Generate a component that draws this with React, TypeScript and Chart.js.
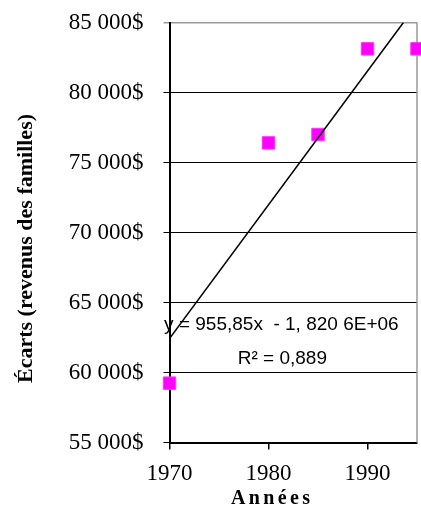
import { useEffect, useRef } from 'react';
import { Chart, registerables } from 'chart.js';

Chart.register(...registerables);

// ---- data ----
const years = [1970, 1980, 1985, 1990, 1995];
const gaps = [59240, 76400, 77000, 83120, 83120];
const trendYears = [1970, 1993.63];
const trendValues = [62425, 85000];
const yTickValues = [55000, 60000, 65000, 70000, 75000, 80000, 85000];
const xTickValues = [1970, 1980, 1990];
const equationLabel = 'y = 955,85x  - 1, 820 6E+06';
const r2Label = 'R² = 0,889';
const xTitle = 'Années';
const yTitle = 'Écarts (revenus des familles)';

const SERIF = "'Liberation Serif', 'Times New Roman', serif";
const SANS = "'Liberation Sans', Arial, sans-serif";

const fmtMoney = (v: number) => {
  const th = Math.floor(v / 1000);
  const rest = String(Math.round(v % 1000)).padStart(3, '0');
  return `${th} ${rest}$`;
};

const zeroPad = (s: any) => {
  s.paddingTop = 0;
  s.paddingBottom = 0;
  s.paddingLeft = 0;
  s.paddingRight = 0;
};

const annotPlugin = {
  id: 'annot',
  beforeDatasetsDraw(chart: any) {
    const { ctx, chartArea } = chart;
    ctx.save();
    ctx.strokeStyle = '#999999';
    ctx.lineWidth = 1.5;
    ctx.beginPath();
    ctx.moveTo(chartArea.right, chartArea.top);
    ctx.lineTo(chartArea.right, chartArea.bottom);
    ctx.stroke();
    ctx.restore();
  },
  afterDraw(chart: any) {
    const { ctx } = chart;
    const xs = chart.scales.x;
    const ys = chart.scales.y;
    ctx.save();
    ctx.fillStyle = '#000';
    ctx.textAlign = 'center';
    ctx.textBaseline = 'middle';
    ctx.font = `19px ${SANS}`;
    ctx.fillText(equationLabel, xs.getPixelForValue(1981.3), ys.getPixelForValue(63430));
    ctx.fillText(r2Label, xs.getPixelForValue(1981.4), ys.getPixelForValue(61000));

    // x title with letter spacing
    ctx.font = `bold 20px ${SERIF}`;
    ctx.textBaseline = 'alphabetic';
    const sp = 3.4;
    (ctx as any).letterSpacing = `${sp}px`;
    ctx.textAlign = 'center';
    ctx.fillText(xTitle, 270.5 + sp / 2, 504);
    (ctx as any).letterSpacing = '0px';

    // y title
    ctx.translate(26, 248.5);
    ctx.rotate(-Math.PI / 2);
    ctx.font = `bold 22px ${SERIF}`;
    ctx.textBaseline = 'middle';
    ctx.fillText(yTitle, 0, 0);
    ctx.restore();
  },
};

export default function App() {
  const ref = useRef<HTMLCanvasElement | null>(null);
  useEffect(() => {
    if (!ref.current) return;
    const chart = new Chart(ref.current, {
      type: 'scatter',
      data: {
        datasets: [
          {
            type: 'line',
            data: trendYears.map((x, i) => ({ x, y: trendValues[i] })),
            borderColor: '#000',
            borderWidth: 1.5,
            pointRadius: 0,
            fill: false,
          } as any,
          {
            type: 'scatter',
            data: years.map((x, i) => ({ x, y: gaps[i] })),
            pointStyle: 'rect',
            pointRadius: 8.8,
            pointBackgroundColor: '#FF00FF',
            pointBorderColor: '#FF33FF',
            pointBorderWidth: 1,
            clip: false,
          } as any,
        ],
      },
      options: {
        responsive: false,
        animation: false,
        layout: { autoPadding: false, padding: { top: 22.5, right: 4, bottom: 0, left: 0 } },
        plugins: { legend: { display: false }, tooltip: { enabled: false } },
        scales: {
          x: {
            type: 'linear',
            min: 1970,
            max: 1995,
            afterFit: (s: any) => { s.height = 65.5; zeroPad(s); },
            afterBuildTicks: (s: any) => { s.ticks = xTickValues.map((v) => ({ value: v })); },
            ticks: {
              stepSize: 10,
              includeBounds: false,
              color: '#000',
              font: { family: SERIF, size: 23 },
              padding: 11,
              maxRotation: 0,
              callback: (v: any) => String(v),
            },
            grid: { drawOnChartArea: false, drawTicks: true, tickLength: 7, color: '#000', lineWidth: 1.5 },
            border: { color: '#000', width: 2 },
          },
          y: {
            type: 'linear',
            min: 55000,
            max: 85000,
            afterFit: (s: any) => { s.width = 169.5; zeroPad(s); },
            afterBuildTicks: (s: any) => { s.ticks = yTickValues.map((v) => ({ value: v })); },
            ticks: {
              stepSize: 5000,
              color: '#000',
              font: { family: SERIF, size: 23 },
              padding: 20,
              callback: (v: any) => fmtMoney(Number(v)),
            },
            grid: {
              drawTicks: true,
              tickLength: 6,
              color: (c: any) => (c.tick && c.tick.value === 85000 ? '#999999' : '#000'),
              lineWidth: (c: any) => (c.tick && c.tick.value === 85000 ? 1.5 : 1),
            },
            border: { color: '#000', width: 2 },
          },
        },
      },
      plugins: [annotPlugin],
    });
    return () => chart.destroy();
  }, []);
  return (
    <div style={{ position: 'fixed', left: 0, top: 0, width: 421, height: 508, background: '#fff' }}>
      <canvas ref={ref} width={421} height={508} style={{ width: 421, height: 508, display: 'block' }} />
    </div>
  );
}
